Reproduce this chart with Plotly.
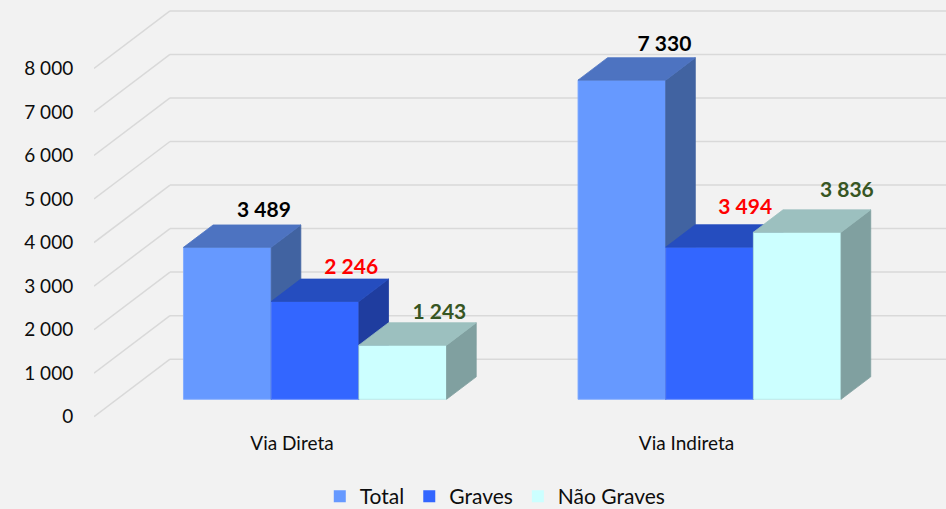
import plotly.graph_objects as go

categories = ["Via Direta", "Via Indireta"]
total = [3489, 7330]
graves = [2246, 3494]
nao_graves = [1243, 3836]
axis_ticks = [0, 1000, 2000, 3000, 4000, 5000, 6000, 7000, 8000]

series = [
    dict(name="Total", values=total, front="#6699FF", side="#4163A1", top="#4D73C1",
         edge="#85ADFF", label="#000000", nudge=[(7, -13), (13, -12)]),
    dict(name="Graves", values=graves, front="#3366FF", side="#1F3D9F", top="#254DBF",
         edge="#5C85FF", label="#FF0000", nudge=[(6.5, -10), (6, -16)]),
    dict(name="Não Graves", values=nao_graves, front="#CCFFFF", side="#80A0A0", top="#9CC0BF",
         edge="#B5E6E6", label="#375623", nudge=[(7, -9), (20, -18)]),
]

# Oblique projection of the Excel-style 3D chart
PX_PER_CAT = 394.5
PX_PER_UNIT = 0.04354
CAT0_PX = 292.0
WALL_DX = 76.0 / PX_PER_CAT      # full depth, in x units
WALL_DY = 57.5 / PX_PER_UNIT     # full depth, in y units
BAR_DEPTH_START = 0.303
BAR_DEPTH = 0.39
BAR_W = 87.7 / PX_PER_CAT
PLOT_LEFT, PLOT_BOTTOM = 94, 430
ZERO_Y = 416.7


def proj(x, y, d):
    return x + d * WALL_DX, y + d * WALL_DY


def poly(pts):
    xs, ys = zip(*pts)
    return list(xs) + [xs[0]], list(ys) + [ys[0]]


fig = go.Figure()
cat_pos = list(range(len(categories)))

# real bars (front faces), also provide the legend
for i, s in enumerate(series):
    xs = [proj(c + (i - 1) * BAR_W, 0, BAR_DEPTH_START)[0] for c in cat_pos]
    fig.add_trace(go.Bar(
        x=xs, y=s["values"], base=[WALL_DY * BAR_DEPTH_START] * len(xs), width=BAR_W,
        name=s["name"], marker=dict(color=s["front"], line=dict(width=0)), hoverinfo="skip",
    ))

# depth-sorted faces
for c in cat_pos:
    for i, s in enumerate(series):
        v = s["values"][c]
        xl = c + (i - 1) * BAR_W - BAR_W / 2
        xr = xl + BAR_W
        d0, d1 = BAR_DEPTH_START, BAR_DEPTH_START + BAR_DEPTH
        faces = [
            (s["front"], [proj(xl, 0, d0), proj(xr, 0, d0), proj(xr, v, d0), proj(xl, v, d0)]),
            (s["side"], [proj(xr, 0, d0), proj(xr, 0, d1), proj(xr, v, d1), proj(xr, v, d0)]),
            (s["top"], [proj(xl, v, d0), proj(xr, v, d0), proj(xr, v, d1), proj(xl, v, d1)]),
        ]
        for color, pts in faces:
            px, py = poly(pts)
            fig.add_trace(go.Scatter(
                x=px, y=py, mode="lines", fill="toself", fillcolor=color,
                line=dict(color=s["edge"] if color == s["front"] else color, width=0.8),
                showlegend=False, hoverinfo="skip",
            ))

# value labels
for c in cat_pos:
    for i, s in enumerate(series):
        v = s["values"][c]
        xl = c + (i - 1) * BAR_W - BAR_W / 2
        bx, by = proj(xl + BAR_W / 2, v, BAR_DEPTH_START + BAR_DEPTH)
        nx, ny = s["nudge"][c]
        fig.add_trace(go.Scatter(
            x=[bx + nx / PX_PER_CAT], y=[by - ny / PX_PER_UNIT], mode="text",
            text=[f"{v:,}".replace(",", " ")], textposition="middle center",
            textfont=dict(family="Lato", size=21, color=s["label"], weight="bold"),
            showlegend=False, hoverinfo="skip", cliponaxis=False,
        ))

# walls
x_left = (PLOT_LEFT - CAT0_PX) / PX_PER_CAT
x_right = (946 - CAT0_PX) / PX_PER_CAT
shapes = []
for t in axis_ticks:
    bx, by = proj(x_left, t, 1)
    shapes.append(dict(type="line", xref="x", yref="y", x0=x_left, y0=t, x1=bx, y1=by,
                       line=dict(color="#D9D9D9", width=1.5), layer="below"))
    shapes.append(dict(type="line", xref="x", yref="y", x0=bx, y0=by, x1=x_right, y1=by,
                       line=dict(color="#D9D9D9", width=1.5), layer="below"))

fig.update_layout(
    width=946, height=509, autosize=False,
    margin=dict(l=PLOT_LEFT, r=0, t=0, b=509 - PLOT_BOTTOM, pad=0, autoexpand=False),
    paper_bgcolor="#F2F2F2", plot_bgcolor="#F2F2F2",
    barmode="overlay", shapes=shapes,
    font=dict(family="Lato", color="#0D0D0D"),
    xaxis=dict(range=[x_left, x_right], tickmode="array", tickvals=cat_pos, ticktext=categories,
               showgrid=False, zeroline=False, showline=False, ticks="", ticklen=0,
               tickfont=dict(size=19, family="Lato", color="#0D0D0D")),
    yaxis=dict(range=[(ZERO_Y - PLOT_BOTTOM) / PX_PER_UNIT, ZERO_Y / PX_PER_UNIT],
               tickmode="array", tickvals=axis_ticks,
               ticktext=[f"{t:,}".replace(",", " ") for t in axis_ticks],
               showgrid=False, zeroline=False, showline=False, ticks="outside", ticklen=16,
               tickcolor="rgba(0,0,0,0)",
               tickfont=dict(size=19, family="Lato", color="#0D0D0D")),
    legend=dict(orientation="h", x=0.265, xanchor="left", y=-0.107, yanchor="top",
                font=dict(size=21, family="Lato", color="#0D0D0D"),
                bgcolor="rgba(0,0,0,0)", tracegroupgap=0),
)

fig.write_html("out.html", config={"displayModeBar": False},
               post_script="document.body.style.margin='0';document.documentElement.style.overflow='hidden';")
